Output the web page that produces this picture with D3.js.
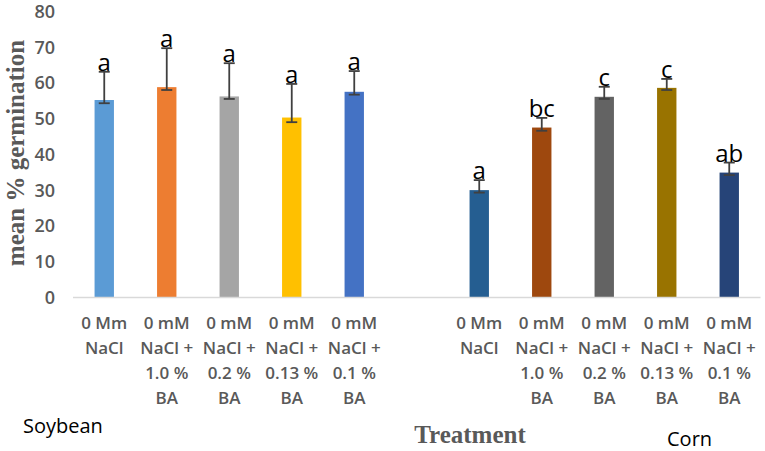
<!DOCTYPE html>
<html>
<head>
<meta charset="utf-8">
<script src="https://cdn.jsdelivr.net/npm/d3@7"></script>
<style>
  html, body { margin: 0; padding: 0; background: #ffffff; }
  svg { display: block; }
</style>
</head>
<body>
<svg id="chart" width="765" height="451"></svg>
<script>
// ---- data ----
const categories = ["S1", "S2", "S3", "S4", "S5", "gap", "C1", "C2", "C3", "C4", "C5"];
const categoryLabels = [
  ["0 Mm", "NaCl"],
  ["0 mM", "NaCl +", "1.0 %", "BA"],
  ["0 mM", "NaCl +", "0.2 %", "BA"],
  ["0 mM", "NaCl +", "0.13 %", "BA"],
  ["0 mM", "NaCl +", "0.1 %", "BA"],
  [],
  ["0 Mm", "NaCl"],
  ["0 mM", "NaCl +", "1.0 %", "BA"],
  ["0 mM", "NaCl +", "0.2 %", "BA"],
  ["0 mM", "NaCl +", "0.13 %", "BA"],
  ["0 mM", "NaCl +", "0.1 %", "BA"]
];
const meanValues = [55.1, 58.7, 56.1, 50.2, 57.4, null, 29.9, 47.4, 56.0, 58.5, 34.8];
const errorUp    = [7.9, 10.9, 9.3, 9.4, 5.8, null, 2.8, 2.7, 2.8, 2.5, 2.8];
const errorDown  = [0.9, 0.8, 0.7, 1.3, 0.8, null, 0.7, 0.9, 0.6, 0.6, 0.7];
const letters    = ["a", "a", "a", "a", "a", "", "a", "bc", "c", "c", "ab"];
const barColors  = ["#5B9BD5", "#ED7D31", "#A5A5A5", "#FFC000", "#4472C4", "none",
                    "#255E91", "#9E480E", "#636363", "#997300", "#264478"];
const yTicks = [0, 10, 20, 30, 40, 50, 60, 70, 80];
const yTitle = "mean % germination";
const xTitle = "Treatment";
const groupNames = ["Soybean", "Corn"];

// ---- layout ----
const svg = d3.select("#chart");
const x = d3.scaleBand().domain(categories).range([73, 760.5])
  .paddingInner(0.69).paddingOuter(0.345);
const y = d3.scaleLinear().domain([0, 80]).range([297, 11]);

const rows = categories.map((c, i) => ({
  key: c, value: meanValues[i], up: errorUp[i], down: errorDown[i],
  letter: letters[i], color: barColors[i], label: categoryLabels[i]
}));
const bars = rows.filter(d => d.value !== null);

// y tick labels (no axis line)
const yAxis = d3.axisLeft(y).tickValues(yTicks).tickSize(0).tickPadding(0);
const yg = svg.append("g").attr("transform", "translate(55,0)").call(yAxis);
yg.select(".domain").remove();
yg.selectAll("text")
  .attr("font-family", "'Open Sans', sans-serif")
  .attr("font-size", 18).attr("font-weight", 600)
  .attr("fill", "#595959").attr("dy", "0.35em");

// bars
svg.append("g").selectAll("rect").data(bars).join("rect")
  .attr("x", d => x(d.key))
  .attr("y", d => y(d.value))
  .attr("width", x.bandwidth())
  .attr("height", d => y(0) - y(d.value))
  .attr("fill", d => d.color);

// baseline
svg.append("line")
  .attr("x1", 73).attr("x2", 760.5)
  .attr("y1", y(0) + 0.5).attr("y2", y(0) + 0.5)
  .attr("stroke", "#D9D9D9").attr("stroke-width", 1.5);

// error bars
const eg = svg.append("g").attr("stroke", "#404040").attr("stroke-width", 1.8);
bars.forEach(d => {
  const cx = x(d.key) + x.bandwidth() / 2;
  const yt = y(d.value + d.up), yb = y(d.value - d.down);
  eg.append("line").attr("x1", cx).attr("x2", cx).attr("y1", yt).attr("y2", yb);
  eg.append("line").attr("x1", cx - 5.5).attr("x2", cx + 5.5).attr("y1", yt).attr("y2", yt);
  eg.append("line").attr("x1", cx - 5.5).attr("x2", cx + 5.5).attr("y1", yb).attr("y2", yb);
});

// significance letters
svg.append("g").selectAll("text").data(bars).join("text")
  .attr("x", d => x(d.key) + x.bandwidth() / 2)
  .attr("y", d => y(d.value + d.up) - 1)
  .attr("text-anchor", "middle")
  .attr("font-family", "'Open Sans', sans-serif")
  .attr("font-size", 24)
  .attr("fill", "#000")
  .text(d => d.letter);

// category labels
const lg = svg.append("g")
  .attr("font-family", "'Open Sans', sans-serif")
  .attr("font-size", 17).attr("font-weight", 600)
  .attr("fill", "#595959").attr("text-anchor", "middle");
rows.forEach(d => {
  const cx = x(d.key) + x.bandwidth() / 2;
  d.label.forEach((line, j) => {
    lg.append("text").attr("x", cx).attr("y", 329 + j * 25).text(line);
  });
});

// y title
svg.append("text")
  .attr("transform", "translate(24,153) rotate(-90)")
  .attr("text-anchor", "middle")
  .attr("font-family", "'Liberation Serif', 'Times New Roman', serif")
  .attr("font-weight", "bold").attr("font-size", 25)
  .attr("fill", "#595959")
  .text(yTitle);

// x title
svg.append("text")
  .attr("x", 470).attr("y", 443)
  .attr("text-anchor", "middle")
  .attr("font-family", "'Liberation Serif', 'Times New Roman', serif")
  .attr("font-weight", "bold").attr("font-size", 25)
  .attr("fill", "#595959")
  .text(xTitle);

// group names
svg.append("text")
  .attr("x", 23).attr("y", 433)
  .attr("font-family", "'Open Sans', sans-serif")
  .attr("font-size", 20).attr("fill", "#000")
  .text(groupNames[0]);
svg.append("text")
  .attr("x", 667).attr("y", 446)
  .attr("font-family", "'Open Sans', sans-serif")
  .attr("font-size", 20).attr("fill", "#000")
  .text(groupNames[1]);
</script>
</body>
</html>
